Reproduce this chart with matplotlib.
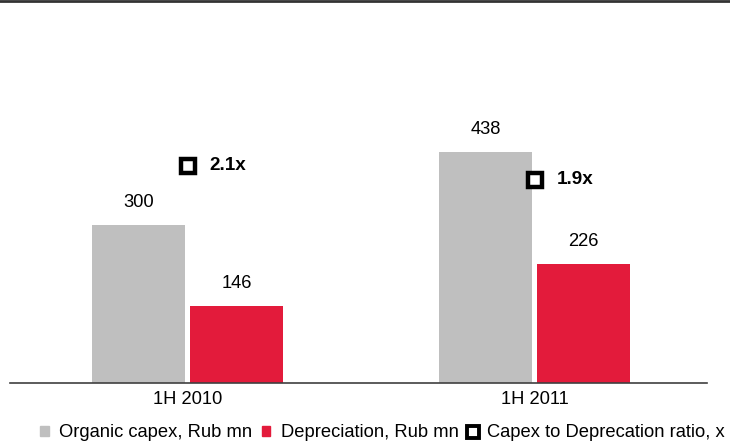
import numpy as np
import matplotlib.pyplot as plt
from matplotlib.lines import Line2D
from matplotlib.patches import Patch

plt.rcParams['font.family'] = ['Liberation Sans', 'DejaVu Sans']

# ---------------- DATA ----------------
periods = ["1H 2010", "1H 2011"]
capex = [300, 438]
depreciation = [146, 226]
ratio = [2.1, 1.9]

grey = "#bfbfbf"
red = "#e31b3b"
fs = 13.2

# ---------------- FIGURE ----------------
fig = plt.figure(figsize=(7.3, 4.42), dpi=100)
ax = fig.add_axes([10 / 730, 59 / 442, 697 / 730, 343 / 442])

x = np.arange(len(periods))
w = 0.268
off = 0.141

ax.bar(x - off, capex, width=w, color=grey)
ax.bar(x + off, depreciation, width=w, color=red)

for xi, v in zip(x - off, capex):
    ax.annotate(str(v), (xi, v), xytext=(0, 10), textcoords="offset points",
                ha="center", va="bottom", fontsize=fs)
for xi, v in zip(x + off, depreciation):
    ax.annotate(str(v), (xi, v), xytext=(0, 10), textcoords="offset points",
                ha="center", va="bottom", fontsize=fs)

ax.set_xlim(-0.512, 1.497)
ax.set_ylim(0, 651)
ax.set_xticks(x)
ax.set_xticklabels(periods, fontsize=fs)
ax.tick_params(axis="x", length=0, pad=5.5)
ax.set_yticks([])
for s in ["top", "right", "left"]:
    ax.spines[s].set_visible(False)
ax.spines["bottom"].set_color("#404040")
ax.spines["bottom"].set_linewidth(1.2)

# ratio on its own scale
ax2 = ax.twinx()
ax2.set_ylim(-1.0, 3.9)
ax2.plot(x, ratio, linestyle="none", marker="s", markersize=10.5,
         markerfacecolor="white", markeredgecolor="black", markeredgewidth=3.2)
for xi, r in zip(x, ratio):
    ax2.annotate(f"{r}x", (xi, r), xytext=(16, 0), textcoords="offset points",
                 ha="left", va="center", fontsize=13.6, fontweight="bold")
ax2.set_yticks([])
for s in ax2.spines.values():
    s.set_visible(False)

# top rule
fig.add_artist(Line2D([0, 1], [0.997, 0.997], transform=fig.transFigure,
                      color="#333333", linewidth=2))

# ---------------- LEGEND ----------------
handles = [
    Patch(color=grey, label="Organic capex, Rub mn"),
    Patch(color=red, label="Depreciation, Rub mn"),
    Line2D([], [], linestyle="none", marker="s", markersize=8,
           markerfacecolor="white", markeredgecolor="black", markeredgewidth=2.8,
           label="Capex to Deprecation ratio, x"),
]
fig.legend(handles=handles, loc="lower center", bbox_to_anchor=(0.524, -0.036),
           ncol=3, frameon=False, fontsize=fs, handlelength=0.46, handleheight=0.46,
           handletextpad=0.55, columnspacing=0.55)

fig.savefig("out.png", dpi=100)
